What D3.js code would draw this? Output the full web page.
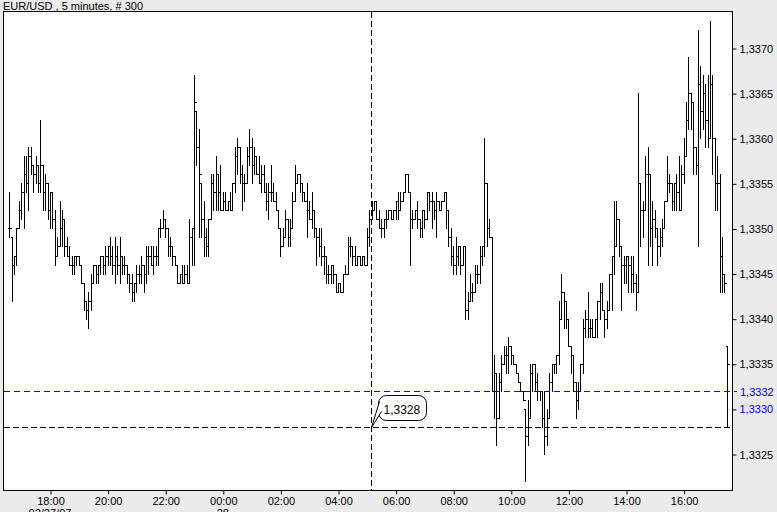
<!DOCTYPE html>
<html><head><meta charset="utf-8">
<script src="https://cdn.jsdelivr.net/npm/d3@7"></script>
<style>
html,body{margin:0;padding:0;background:#ebebeb;}
svg{display:block;font-family:"Liberation Sans",Arial,sans-serif;}
</style></head>
<body>
<svg id="c" width="777" height="512"></svg>
<script>
// ---- data: EUR/USD 5-minute bars, 300 bars starting 02/27/07 16:35 ----
const title = "EUR/USD , 5 minutes, # 300";
const startTime = new Date(2007, 1, 27, 16, 35);
const barMinutes = 5;
const opens = [
1.3350,1.3349,1.3346,1.3347,1.3350,1.3352,1.3354,1.3356,1.3355,1.3358,
1.3357,1.3356,1.3357,1.3355,1.3357,1.3354,1.3355,1.3352,1.3354,1.3351,
1.3347,1.3348,1.3350,1.3351,1.3348,1.3347,1.3346,1.3346,1.3347,1.3347,
1.3346,1.3344,1.3342,1.3341,1.3342,1.3344,1.3346,1.3345,1.3346,1.3347,
1.3346,1.3347,1.3348,1.3347,1.3346,1.3347,1.3346,1.3347,1.3346,1.3346,
1.3345,1.3344,1.3343,1.3344,1.3345,1.3345,1.3346,1.3345,1.3347,1.3347,
1.3346,1.3347,1.3347,1.3350,1.3350,1.3351,1.3350,1.3348,1.3348,1.3347,
1.3346,1.3344,1.3345,1.3344,1.3345,1.3344,1.3349,1.3350,1.3363,1.3359,
1.3355,1.3351,1.3349,1.3348,1.3351,1.3355,1.3354,1.3356,1.3354,1.3352,
1.3353,1.3352,1.3353,1.3352,1.3355,1.3358,1.3359,1.3356,1.3355,1.3355,
1.3358,1.3359,1.3357,1.3358,1.3356,1.3355,1.3356,1.3354,1.3353,1.3354,
1.3354,1.3353,1.3352,1.3350,1.3348,1.3349,1.3351,1.3349,1.3350,1.3353,
1.3355,1.3356,1.3355,1.3354,1.3353,1.3352,1.3351,1.3352,1.3350,1.3349,
1.3348,1.3347,1.3347,1.3345,1.3345,1.3346,1.3345,1.3343,1.3344,1.3343,
1.3345,1.3345,1.3348,1.3348,1.3347,1.3346,1.3347,1.3346,1.3347,1.3346,
1.3349,1.3351,1.3352,1.3353,1.3351,1.3350,1.3350,1.3351,1.3351,1.3352,
1.3351,1.3352,1.3353,1.3352,1.3353,1.3354,1.3356,1.3354,1.3351,1.3351,
1.3352,1.3351,1.3350,1.3352,1.3351,1.3354,1.3353,1.3353,1.3352,1.3353,
1.3352,1.3353,1.3354,1.3352,1.3349,1.3347,1.3346,1.3347,1.3348,1.3346,
1.3348,1.3341,1.3342,1.3343,1.3343,1.3345,1.3345,1.3347,1.3348,1.3355,
1.3350,1.3349,1.3332,1.3334,1.3329,1.3333,1.3335,1.3336,1.3336,1.3337,
1.3336,1.3335,1.3334,1.3333,1.3332,1.3330,1.3327,1.3329,1.3334,1.3335,
1.3333,1.3332,1.3332,1.3329,1.3327,1.3329,1.3333,1.3335,1.3335,1.3336,
1.3340,1.3343,1.3342,1.3340,1.3337,1.3336,1.3333,1.3331,1.3332,1.3335,
1.3339,1.3340,1.3339,1.3339,1.3338,1.3340,1.3342,1.3343,1.3341,1.3340,
1.3341,1.3345,1.3347,1.3348,1.3351,1.3348,1.3346,1.3346,1.3347,1.3346,
1.3345,1.3344,1.3343,1.3355,1.3352,1.3352,1.3356,1.3356,1.3350,1.3351,
1.3350,1.3348,1.3349,1.3350,1.3353,1.3355,1.3355,1.3353,1.3355,1.3354,
1.3352,1.3356,1.3358,1.3362,1.3365,1.3364,1.3359,1.3357,1.3366,1.3363,
1.3365,1.3362,1.3360,1.3366,1.3360,1.3355,1.3355,1.3347,1.3345,1.3337];
const highs = [
1.3354,1.3349,1.3347,1.3350,1.3353,1.3355,1.3358,1.3358,1.3359,1.3359,
1.3357,1.3358,1.3357,1.3362,1.3357,1.3356,1.3355,1.3354,1.3354,1.3352,
1.3349,1.3353,1.3352,1.3351,1.3349,1.3348,1.3347,1.3347,1.3347,1.3347,
1.3346,1.3344,1.3342,1.3343,1.3345,1.3346,1.3346,1.3346,1.3347,1.3347,
1.3348,1.3348,1.3349,1.3348,1.3349,1.3348,1.3349,1.3347,1.3347,1.3346,
1.3345,1.3345,1.3344,1.3346,1.3346,1.3347,1.3346,1.3348,1.3348,1.3348,
1.3348,1.3348,1.3350,1.3351,1.3352,1.3351,1.3350,1.3349,1.3348,1.3347,
1.3346,1.3345,1.3346,1.3346,1.3346,1.3351,1.3350,1.3367,1.3363,1.3361,
1.3355,1.3353,1.3350,1.3351,1.3356,1.3356,1.3358,1.3356,1.3357,1.3354,
1.3354,1.3353,1.3354,1.3355,1.3359,1.3360,1.3359,1.3357,1.3356,1.3359,
1.3361,1.3360,1.3359,1.3358,1.3358,1.3357,1.3357,1.3355,1.3355,1.3357,
1.3355,1.3354,1.3352,1.3350,1.3350,1.3352,1.3351,1.3351,1.3354,1.3357,
1.3356,1.3356,1.3355,1.3354,1.3355,1.3353,1.3354,1.3352,1.3350,1.3350,
1.3350,1.3348,1.3347,1.3346,1.3346,1.3346,1.3345,1.3344,1.3344,1.3345,
1.3346,1.3349,1.3349,1.3348,1.3348,1.3347,1.3347,1.3347,1.3347,1.3350,
1.3352,1.3353,1.3353,1.3353,1.3352,1.3351,1.3351,1.3352,1.3352,1.3352,
1.3352,1.3353,1.3354,1.3354,1.3354,1.3356,1.3356,1.3354,1.3352,1.3352,
1.3353,1.3351,1.3352,1.3352,1.3354,1.3354,1.3354,1.3353,1.3354,1.3353,
1.3353,1.3354,1.3354,1.3352,1.3350,1.3348,1.3349,1.3348,1.3348,1.3348,
1.3348,1.3343,1.3345,1.3344,1.3346,1.3346,1.3348,1.3348,1.3360,1.3355,
1.3351,1.3349,1.3336,1.3334,1.3334,1.3336,1.3337,1.3337,1.3338,1.3337,
1.3336,1.3335,1.3334,1.3333,1.3332,1.3330,1.3331,1.3335,1.3335,1.3335,
1.3334,1.3332,1.3332,1.3332,1.3330,1.3334,1.3335,1.3335,1.3336,1.3342,
1.3345,1.3343,1.3342,1.3340,1.3337,1.3336,1.3333,1.3333,1.3335,1.3340,
1.3341,1.3343,1.3340,1.3340,1.3340,1.3342,1.3344,1.3344,1.3341,1.3342,
1.3345,1.3347,1.3353,1.3353,1.3351,1.3348,1.3347,1.3347,1.3347,1.3347,
1.3347,1.3345,1.3365,1.3355,1.3353,1.3358,1.3359,1.3356,1.3353,1.3352,
1.3350,1.3350,1.3351,1.3353,1.3358,1.3356,1.3355,1.3355,1.3356,1.3358,
1.3357,1.3360,1.3364,1.3369,1.3365,1.3364,1.3359,1.3372,1.3368,1.3367,
1.3366,1.3367,1.3373,1.3367,1.3360,1.3358,1.3356,1.3349,1.3345,1.3337];
const lows = [
1.3349,1.3342,1.3345,1.3346,1.3350,1.3351,1.3350,1.3354,1.3352,1.3356,
1.3354,1.3355,1.3354,1.3354,1.3352,1.3352,1.3351,1.3350,1.3350,1.3346,
1.3347,1.3348,1.3348,1.3347,1.3347,1.3346,1.3345,1.3345,1.3346,1.3346,
1.3344,1.3341,1.3340,1.3339,1.3341,1.3344,1.3344,1.3344,1.3345,1.3345,
1.3345,1.3346,1.3346,1.3345,1.3344,1.3345,1.3344,1.3345,1.3345,1.3344,
1.3343,1.3342,1.3342,1.3343,1.3344,1.3344,1.3343,1.3344,1.3345,1.3346,
1.3345,1.3346,1.3346,1.3349,1.3350,1.3349,1.3347,1.3347,1.3346,1.3346,
1.3344,1.3344,1.3344,1.3344,1.3344,1.3344,1.3346,1.3346,1.3357,1.3349,
1.3349,1.3347,1.3347,1.3347,1.3351,1.3352,1.3352,1.3352,1.3352,1.3352,
1.3352,1.3352,1.3352,1.3352,1.3354,1.3356,1.3355,1.3352,1.3353,1.3355,
1.3357,1.3355,1.3356,1.3356,1.3355,1.3354,1.3354,1.3352,1.3351,1.3353,
1.3353,1.3352,1.3350,1.3347,1.3348,1.3349,1.3348,1.3348,1.3350,1.3353,
1.3355,1.3354,1.3353,1.3353,1.3349,1.3351,1.3350,1.3349,1.3346,1.3347,
1.3346,1.3345,1.3344,1.3344,1.3344,1.3344,1.3343,1.3343,1.3343,1.3343,
1.3345,1.3345,1.3347,1.3346,1.3346,1.3346,1.3346,1.3346,1.3346,1.3346,
1.3348,1.3351,1.3352,1.3351,1.3350,1.3349,1.3349,1.3350,1.3351,1.3351,
1.3351,1.3351,1.3351,1.3352,1.3353,1.3354,1.3354,1.3346,1.3350,1.3351,
1.3350,1.3349,1.3349,1.3350,1.3351,1.3352,1.3350,1.3351,1.3349,1.3352,
1.3352,1.3353,1.3350,1.3348,1.3346,1.3345,1.3345,1.3346,1.3345,1.3346,
1.3340,1.3340,1.3342,1.3342,1.3343,1.3344,1.3344,1.3346,1.3347,1.3348,
1.3349,1.3332,1.3329,1.3326,1.3329,1.3332,1.3335,1.3334,1.3334,1.3335,
1.3335,1.3334,1.3333,1.3332,1.3331,1.3322,1.3326,1.3329,1.3332,1.3332,
1.3331,1.3331,1.3328,1.3325,1.3326,1.3329,1.3332,1.3334,1.3334,1.3335,
1.3340,1.3339,1.3339,1.3337,1.3334,1.3332,1.3329,1.3330,1.3332,1.3334,
1.3338,1.3338,1.3338,1.3338,1.3338,1.3338,1.3340,1.3341,1.3338,1.3339,
1.3341,1.3341,1.3345,1.3348,1.3347,1.3341,1.3344,1.3344,1.3343,1.3343,
1.3343,1.3341,1.3343,1.3348,1.3349,1.3352,1.3346,1.3348,1.3346,1.3349,
1.3346,1.3347,1.3348,1.3350,1.3353,1.3354,1.3352,1.3352,1.3352,1.3352,
1.3352,1.3355,1.3358,1.3361,1.3361,1.3356,1.3356,1.3348,1.3360,1.3361,
1.3359,1.3359,1.3360,1.3356,1.3352,1.3352,1.3343,1.3343,1.3343,1.3328];
const closes = [
1.3350,1.3346,1.3347,1.3350,1.3352,1.3354,1.3356,1.3355,1.3358,1.3357,
1.3356,1.3357,1.3355,1.3357,1.3354,1.3355,1.3352,1.3354,1.3351,1.3347,
1.3348,1.3350,1.3351,1.3348,1.3347,1.3346,1.3346,1.3347,1.3347,1.3346,
1.3344,1.3342,1.3341,1.3342,1.3344,1.3346,1.3345,1.3346,1.3347,1.3346,
1.3347,1.3348,1.3347,1.3346,1.3347,1.3346,1.3347,1.3346,1.3346,1.3345,
1.3344,1.3343,1.3344,1.3345,1.3345,1.3346,1.3345,1.3347,1.3347,1.3346,
1.3347,1.3347,1.3350,1.3350,1.3351,1.3350,1.3348,1.3348,1.3347,1.3346,
1.3344,1.3345,1.3344,1.3345,1.3344,1.3349,1.3350,1.3364,1.3359,1.3356,
1.3351,1.3349,1.3348,1.3351,1.3355,1.3354,1.3356,1.3354,1.3352,1.3353,
1.3352,1.3353,1.3352,1.3355,1.3358,1.3359,1.3356,1.3355,1.3355,1.3358,
1.3359,1.3357,1.3358,1.3356,1.3355,1.3356,1.3354,1.3353,1.3354,1.3354,
1.3353,1.3352,1.3350,1.3348,1.3349,1.3351,1.3349,1.3350,1.3353,1.3355,
1.3356,1.3355,1.3354,1.3353,1.3352,1.3351,1.3352,1.3350,1.3349,1.3348,
1.3347,1.3347,1.3345,1.3345,1.3346,1.3345,1.3343,1.3344,1.3343,1.3345,
1.3345,1.3348,1.3348,1.3347,1.3346,1.3347,1.3346,1.3347,1.3346,1.3349,
1.3351,1.3352,1.3353,1.3351,1.3350,1.3350,1.3351,1.3351,1.3352,1.3351,
1.3352,1.3353,1.3352,1.3353,1.3354,1.3356,1.3354,1.3351,1.3351,1.3352,
1.3351,1.3350,1.3352,1.3351,1.3354,1.3353,1.3353,1.3352,1.3353,1.3352,
1.3353,1.3354,1.3352,1.3349,1.3347,1.3346,1.3347,1.3348,1.3346,1.3348,
1.3341,1.3342,1.3343,1.3343,1.3345,1.3345,1.3347,1.3348,1.3355,1.3350,
1.3349,1.3332,1.3334,1.3329,1.3333,1.3335,1.3336,1.3336,1.3337,1.3336,
1.3335,1.3334,1.3333,1.3332,1.3331,1.3327,1.3329,1.3334,1.3335,1.3333,
1.3332,1.3332,1.3329,1.3327,1.3329,1.3333,1.3335,1.3335,1.3336,1.3340,
1.3343,1.3342,1.3340,1.3337,1.3336,1.3333,1.3331,1.3332,1.3335,1.3339,
1.3340,1.3339,1.3339,1.3338,1.3340,1.3342,1.3343,1.3341,1.3340,1.3341,
1.3345,1.3347,1.3348,1.3351,1.3348,1.3346,1.3346,1.3347,1.3346,1.3345,
1.3344,1.3343,1.3355,1.3352,1.3352,1.3356,1.3356,1.3350,1.3351,1.3350,
1.3348,1.3349,1.3350,1.3353,1.3355,1.3355,1.3353,1.3355,1.3354,1.3352,
1.3356,1.3358,1.3362,1.3365,1.3364,1.3359,1.3357,1.3366,1.3363,1.3365,
1.3362,1.3360,1.3366,1.3360,1.3355,1.3355,1.3347,1.3345,1.3344,1.3335];
const priceTicks = [1.3325,1.3330,1.3335,1.3340,1.3345,1.3350,1.3355,1.3360,1.3365,1.3370];
const priceDomain = [1.3325, 1.3370];
const blueLevel = 1.3332;          // blue dashed level
const cursorLevel = 1.3328;        // crosshair price
const cursorTime = new Date(2007, 1, 28, 5, 10);
const dateLabels = [{t: new Date(2007,1,27,18,0), s: "02/27/07"}, {t: new Date(2007,1,28,0,0), s: "28"}];

// ---- layout ----
const svg = d3.select("#c");
const plot = {left: 3, top: 11, right: 732, bottom: 490};
const times = opens.map((_, i) => d3.timeMinute.offset(startTime, i * barMinutes));
const x = d3.scaleTime().domain([times[0], times[times.length - 1]]).range([9.2, 726.8]);
const y = d3.scaleLinear().domain(priceDomain).range([454, 48]);
const fmtPrice = v => d3.format(".4f")(v).replace(".", ",");
const BLUE = "#0000ff";

svg.append("text").attr("x", 3).attr("y", 9.5).attr("font-size", 11).attr("fill", "#000").text(title);

svg.append("rect").attr("x", plot.left + 0.5).attr("y", plot.top + 0.5)
  .attr("width", plot.right - plot.left).attr("height", plot.bottom - plot.top)
  .attr("fill", "#fff").attr("stroke", "#000").attr("stroke-width", 1);

// right axis
const yAxis = d3.axisRight(y).tickValues(priceTicks).tickSize(4).tickPadding(3).tickFormat(fmtPrice);
const gy = svg.append("g").attr("transform", `translate(${plot.right + 0.5},0.5)`).call(yAxis);
gy.select(".domain").remove();
gy.selectAll("text").attr("font-size", 11).attr("font-family", "Liberation Sans, Arial, sans-serif").attr("fill", "#000");
gy.selectAll("text").filter(d => Math.abs(d - 1.3330) < 1e-7).attr("fill", "#0000d0");

// bottom axis
const hourTicks = d3.timeHour.every(2).range(d3.timeHour.offset(times[0], 1), times[times.length - 1]);
const xAxis = d3.axisBottom(x).tickValues(hourTicks).tickSize(4).tickPadding(3).tickFormat(d3.timeFormat("%H:%M"));
const gx = svg.append("g").attr("transform", `translate(0.5,${plot.bottom + 0.5})`).call(xAxis);
gx.select(".domain").remove();
gx.selectAll("text").attr("font-size", 11).attr("font-family", "Liberation Sans, Arial, sans-serif").attr("fill", "#000");
svg.selectAll(".datelbl").data(dateLabels).enter().append("text").attr("class", "datelbl")
  .attr("x", d => x(d.t)).attr("y", 517).attr("text-anchor", "middle").attr("font-size", 11).text(d => d.s);

// bars
const bars = opens.map((o, i) => ({t: times[i], o, h: highs[i], l: lows[i], c: closes[i]}));
const px = v => Math.round(v) + 0.5;
svg.append("g").selectAll("path").data(bars).enter().append("path")
  .attr("d", d => {
    const cx = px(x(d.t));
    return `M${cx},${px(y(d.h)) - 0.5}V${px(y(d.l)) + 0.5}` +
           `M${cx - 2},${px(y(d.o))}H${cx}` +
           `M${cx},${px(y(d.c))}H${cx + 2}`;
  })
  .attr("fill", "none").attr("stroke", "#000").attr("stroke-width", 1).attr("shape-rendering", "crispEdges");

// blue level line
const yb = Math.round(y(blueLevel)) + 0.5;
svg.append("line").attr("x1", plot.left + 1).attr("x2", plot.right + 5).attr("y1", yb).attr("y2", yb)
  .attr("stroke", BLUE).attr("stroke-width", 1).attr("stroke-dasharray", "6,4").attr("shape-rendering", "crispEdges");
svg.append("text").attr("x", plot.right + 8).attr("y", yb + 4).attr("font-size", 11).attr("fill", "#0000d0").text(fmtPrice(blueLevel));

// crosshair
const cx0 = Math.round(x(cursorTime)) - 0.5, cy0 = px(y(cursorLevel));
svg.append("line").attr("x1", cx0).attr("x2", cx0).attr("y1", plot.top + 1).attr("y2", plot.bottom)
  .attr("stroke", "#000").attr("stroke-dasharray", "6,3").attr("shape-rendering", "crispEdges");
svg.append("line").attr("x1", plot.left + 1).attr("x2", plot.right).attr("y1", cy0).attr("y2", cy0)
  .attr("stroke", "#000").attr("stroke-dasharray", "6,3").attr("shape-rendering", "crispEdges");
// callout
svg.append("rect").attr("x", cx0 + 7).attr("y", cy0 - 32).attr("width", 48).attr("height", 25).attr("rx", 8)
  .attr("fill", "#fff").attr("stroke", "#000");
svg.append("path").attr("d", `M${cx0 + 8},${cy0 - 26}L${cx0},${cy0}L${cx0 + 10},${cy0 - 16}`)
  .attr("fill", "#fff").attr("stroke", "#000");
svg.append("text").attr("x", cx0 + 12).attr("y", cy0 - 14).attr("font-size", 12).text(fmtPrice(cursorLevel));
</script>
</body></html>
